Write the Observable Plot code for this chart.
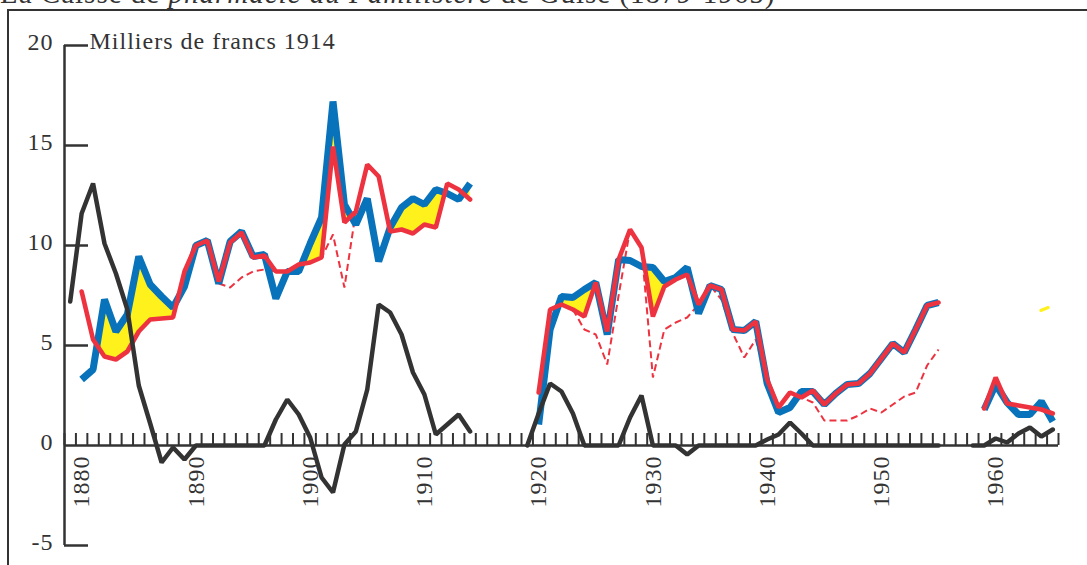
<!DOCTYPE html>
<html>
<head>
<meta charset="utf-8">
<script src="https://cdn.jsdelivr.net/npm/d3@7"></script>
<script src="https://cdn.jsdelivr.net/npm/@observablehq/plot@0.6"></script>
<style>
  html, body { margin: 0; padding: 0; background: #fff; overflow: hidden; }
  #wrap { position: relative; width: 1087px; height: 565px; overflow: hidden; }
  #title { position: absolute; left: 0; top: -19px; font-family: "Liberation Serif", "Times New Roman", serif; font-size: 29px; line-height: 24px; white-space: nowrap; color: #333; letter-spacing: 1px; }
  #frame { position: absolute; left: 7px; top: 9px; width: 2000px; height: 1000px; border-left: 2.5px solid #333; border-top: 2.5px solid #333; }
  #chart { position: absolute; left: 0; top: 0; }
</style>
</head>
<body>
<div id="wrap">
  <div id="title">La Caisse de <i>pharmacie du Familistère</i> de Guise (1879-1965)</div>
  <div id="frame"></div>
  <div id="chart"></div>
</div>
<script>
// Years 1879 … 1965 (one category per year)
const years = d3.range(1879, 1966);

// Black series
const black = [
  7.2,
  11.6, 13.1, 10.1, 8.6, 6.8, 3.0, 1.1, -0.85, -0.1, -0.7,   // 1880s
  0, 0, 0, 0, 0, 0, 0, 1.3, 2.3, 1.55,                       // 1890s
  0.4, -1.6, -2.35, 0.05, 0.7, 2.8, 7.05, 6.65, 5.55, 3.65,   // 1900s
  2.55, 0.55, 1.05, 1.55, 0.7, null, null, null, null, 0,     // 1910s
  1.6, 3.1, 2.7, 1.6, 0, 0, 0, 0, 1.4, 2.5,                   // 1920s
  0, 0, 0, -0.45, 0, 0, 0, 0, 0, 0,                           // 1930s
  0.3, 0.55, 1.15, 0.6, 0, 0, 0, 0, 0, 0,                     // 1940s
  0, 0, 0, 0, 0, 0, null, null, 0, 0,                         // 1950s
  0.35, 0.15, 0.6, 0.9, 0.45, 0.8                             // 1960s
];

// Blue series
const blue = [
  null,
  3.3, 3.8, 7.3, 5.7, 6.55, 9.45, 8.05, 7.45, 6.9, 7.95,
  10.0, 10.25, 8.1, 10.2, 10.7, 9.45, 9.55, 7.35, 8.7, 8.7,
  10.1, 11.4, 17.2, 12.05, 11.05, 12.35, 9.2, 10.9, 11.9, 12.35,
  12.05, 12.8, 12.6, 12.3, 13.1, null, null, null, null, null,
  1.05, 5.8, 7.45, 7.4, 7.8, 8.15, 5.55, 9.3, 9.25, 8.95,
  8.9, 8.2, 8.4, 8.9, 6.6, 8.0, 7.8, 5.8, 5.75, 6.2,
  3.1, 1.65, 1.9, 2.7, 2.7, 2.05, 2.6, 3.05, 3.1, 3.6,
  4.35, 5.1, 4.65, 5.8, 7.0, 7.15, null, null, null, 1.8,
  3.05, 2.15, 1.55, 1.55, 2.2, 1.2
];

// Red series
const red = [
  null,
  7.7, 5.3, 4.45, 4.3, 4.7, 5.7, 6.3, 6.35, 6.4, 8.7,
  10.0, 10.25, 8.2, 10.15, 10.65, 9.4, 9.5, 8.7, 8.7, 9.05,
  9.15, 9.4, 14.95, 11.15, 11.7, 14.05, 13.45, 10.7, 10.8, 10.6,
  11.05, 10.9, 13.1, 12.8, 12.3, null, null, null, null, null,
  2.65, 6.8, 7.05, 6.8, 6.45, 8.15, 5.7, 9.3, 10.8, 9.9,
  6.45, 7.95, 8.3, 8.55, 7.05, 8.0, 7.8, 5.8, 5.75, 6.2,
  3.3, 1.9, 2.65, 2.4, 2.75, 2.05, 2.6, 3.05, 3.1, 3.6,
  4.35, 5.1, 4.65, 5.8, 7.0, 7.15, null, null, null, 1.85,
  3.4, 2.1, 2.0, 1.9, 1.8, 1.6
];

// Red dashed series
const dashed = [
  null,
  null, null, null, null, null, null, null, null, null, null,
  null, null, 8.1, 7.9, 8.4, 8.7, 8.8, 8.7, 8.7, 9.05,
  9.15, 9.4, 10.55, 7.9, 11.7, null, null, null, null, null,
  null, null, null, null, null, null, null, null, null, null,
  null, null, null, 6.8, 5.8, 5.55, 4.05, 7.5, 10.8, 9.9,
  3.4, 5.8, 6.15, 6.4, 7.05, 8.0, 7.3, 5.6, 4.4, 5.3,
  3.3, 1.9, 2.65, 2.4, 2.15, 1.25, 1.25, 1.25, 1.5, 1.85,
  1.65, 2.05, 2.45, 2.65, 4.0, 4.8, null, null, null, null,
  null, null, null, null, null, null
];

// Small stray yellow stroke near the right edge
const strayYears = [1963.95, 1964.6];
const strayValues = [6.75, 6.9];

const decadeLabels = [1880, 1890, 1900, 1910, 1920, 1930, 1940, 1950, 1960];
const yTickValues = [-5, 0, 5, 10, 15, 20];
const unitLabel = "Milliers de francs 1914";

const rows = years.map((year, i) => ({year, black: black[i], blue: blue[i], red: red[i], dashed: dashed[i]}));
const strayRows = strayYears.map((year, i) => ({year, v: strayValues[i]}));
const tickBounds = years.map(y => y - 0.5).concat([years[years.length - 1] + 0.5]);

const W = 1087, H = 565, ML = 64, MR = 29, MT = 45, MB = 20;
const INK = "#333333", BLUE = "#0873BA", RED = "#EE3340", YELLOW = "#FFF21C";
const x0 = years[0] - 0.5, x1 = years[years.length - 1] + 0.5;

const chart = Plot.plot({
  width: W, height: H,
  marginLeft: ML, marginRight: MR, marginTop: MT, marginBottom: MB,
  x: {domain: [x0, x1], axis: null},
  y: {domain: [-5, 20], axis: null},
  style: {fontFamily: '"Liberation Serif", "Times New Roman", serif', fontSize: "24px", color: INK, background: "transparent", overflow: "visible", letterSpacing: "1px"},
  marks: [
    Plot.areaY(rows, {x: "year", y1: 0, y2: "blue", fill: YELLOW}),
    Plot.areaY(rows, {x: "year", y1: 0, y2: "red", fill: "white", stroke: "white", strokeWidth: 1.5}),
    Plot.lineY(strayRows, {x: "year", y: "v", stroke: YELLOW, strokeWidth: 3}),
    Plot.lineY(rows, {x: "year", y: "dashed", stroke: RED, strokeWidth: 2, strokeDasharray: "7,4", strokeLinejoin: "miter", strokeLinecap: "butt"}),
    Plot.lineY(rows, {x: "year", y: "blue", stroke: BLUE, strokeWidth: 7, strokeLinejoin: "miter", strokeLinecap: "butt"}),
    Plot.lineY(rows, {x: "year", y: "red", stroke: RED, strokeWidth: 4.6, strokeLinejoin: "miter", strokeLinecap: "round"}),
    Plot.lineY(rows, {x: "year", y: "black", stroke: INK, strokeWidth: 4.5, strokeLinejoin: "miter", strokeLinecap: "round"}),
    // x axis line and yearly ticks (between categories, pointing up)
    Plot.ruleY([0], {stroke: INK, strokeWidth: 2.5}),
    Plot.ruleX(tickBounds, {y1: 0, y2: 0.6, stroke: INK, strokeWidth: 2}),
    // y axis line and inward ticks
    Plot.ruleX([x0], {y1: -5, y2: 20, stroke: INK, strokeWidth: 2.5}),
    Plot.ruleY(yTickValues.filter(d => d !== 0), {stroke: INK, strokeWidth: 2.5, insetRight: (W - ML - MR) - 24}),
    Plot.text(yTickValues, {x: x0, y: d => d, text: d => String(d), textAnchor: "end", dx: -11, dy: -3}),
    Plot.text([unitLabel], {x: x0, y: 20, text: d => d, textAnchor: "start", dx: 25, dy: -4}),
    Plot.text(decadeLabels, {x: d => d, y: 0, text: d => String(d), rotate: -90, textAnchor: "end", dy: 10})
  ]
});
document.getElementById("chart").appendChild(chart);
</script>
</body>
</html>
